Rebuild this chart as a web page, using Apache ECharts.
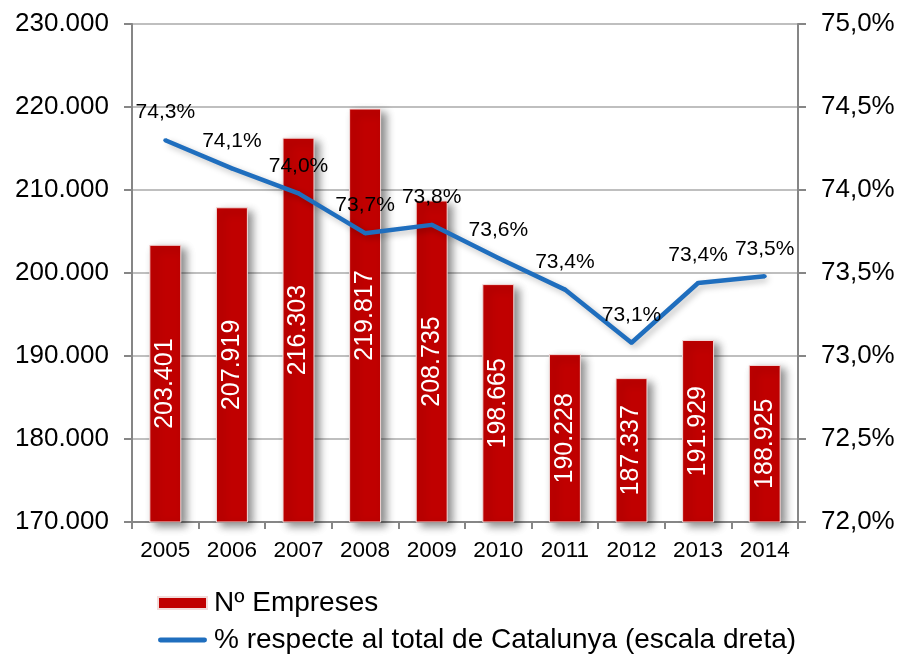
<!DOCTYPE html>
<html>
<head>
<meta charset="utf-8">
<script src="https://cdn.jsdelivr.net/npm/echarts@6/dist/echarts.min.js"></script>
<style>
  html, body { margin: 0; padding: 0; background: #fff; }
  #chart { width: 901px; height: 656px; }
</style>
</head>
<body>
<div id="chart"></div>
<script>
// dades
const years = ['2005', '2006', '2007', '2008', '2009', '2010', '2011', '2012', '2013', '2014'];
const empreses = [203401, 207919, 216303, 219817, 208735, 198665, 190228, 187337, 191929, 188925];
const percentCat = [74.30, 74.13, 73.98, 73.74, 73.79, 73.59, 73.40, 73.08, 73.44, 73.48];
const leftTicks = [170000, 230000, 10000];   // min, max, interval
const rightTicks = [72, 75, 0.5];

const FONT = '"Liberation Sans", Arial, sans-serif';

const miles = (v) => String(v).replace(/\B(?=(\d{3})+(?!\d))/g, '.');
const pct = (v) => v.toFixed(1).replace('.', ',') + '%';

let myChart = echarts.init(document.getElementById('chart'));
let option = {
    backgroundColor: '#fff',
    animation: false,
    textStyle: { fontFamily: FONT, color: '#000' },
    grid: { left: 132, right: 103, top: 24, bottom: 134 },
    legend: {
        orient: 'vertical',
        left: 157,
        top: 589,
        height: 120,
        padding: 0,
        itemWidth: 49,
        itemHeight: 12,
        itemGap: 9,
        textStyle: { fontFamily: FONT, fontSize: 28, color: '#000', padding: [0, 0, 0, 2] },
        data: [
            { name: 'Nº Empreses', icon: 'rect' },
            { name: '% respecte al total de Catalunya (escala dreta)', icon: 'path://M2,0 L38,0 A2,2 0 0 1 38,4 L2,4 A2,2 0 0 1 2,0 Z' }
        ]
    },
    xAxis: {
        type: 'category',
        data: years,
        axisLine: { lineStyle: { color: '#868686', width: 2 } },
        axisTick: { show: true, length: 7, lineStyle: { color: '#868686', width: 2 } },
        axisLabel: { fontFamily: FONT, fontSize: 22.5, color: '#000', margin: 17 }
    },
    yAxis: [
        {
            type: 'value',
            min: leftTicks[0], max: leftTicks[1], interval: leftTicks[2],
            axisLine: { show: true, lineStyle: { color: '#868686', width: 2 } },
            axisTick: { show: true, length: 8, lineStyle: { color: '#868686', width: 2 } },
            axisLabel: { fontFamily: FONT, fontSize: 26, color: '#000', margin: 23, formatter: miles },
            splitLine: { lineStyle: { color: '#BFBFBF', width: 2 } }
        },
        {
            type: 'value',
            min: rightTicks[0], max: rightTicks[1], interval: rightTicks[2],
            axisLine: { show: true, lineStyle: { color: '#868686', width: 2 } },
            axisTick: { show: true, length: 8, lineStyle: { color: '#868686', width: 2 } },
            axisLabel: { fontFamily: FONT, fontSize: 26, color: '#000', margin: 23, formatter: pct },
            splitLine: { show: false }
        }
    ],
    series: [
        {
            name: 'Nº Empreses',
            type: 'bar',
            yAxisIndex: 0,
            barWidth: '48%',
            data: empreses,
            itemStyle: {
                color: '#C00000',
                borderColor: '#F2DCDB',
                borderWidth: 1,
                shadowColor: 'rgba(0,0,0,0.45)',
                shadowBlur: 8,
                shadowOffsetX: 5,
                shadowOffsetY: 4
            },
            label: {
                show: true,
                position: 'inside',
                rotate: 90,
                color: '#fff',
                fontFamily: FONT,
                fontSize: 25,
                formatter: (p) => miles(p.value)
            },
            z: 2
        },
        {
            name: '% respecte al total de Catalunya (escala dreta)',
            type: 'line',
            yAxisIndex: 1,
            data: percentCat,
            symbol: 'circle',
            symbolSize: 4,
            showSymbol: true,
            lineStyle: {
                color: '#1F6EBE',
                width: 4.5,
                shadowColor: 'rgba(0,0,0,0.25)',
                shadowBlur: 6,
                shadowOffsetX: 3,
                shadowOffsetY: 3
            },
            itemStyle: { color: '#1F6EBE' },
            label: {
                show: true,
                position: 'top',
                distance: 15,
                color: '#000',
                fontFamily: FONT,
                fontSize: 21,
                formatter: (p) => pct(p.value)
            },
            z: 3
        }
    ]
};
myChart.setOption(option, true);
</script>
</body>
</html>
